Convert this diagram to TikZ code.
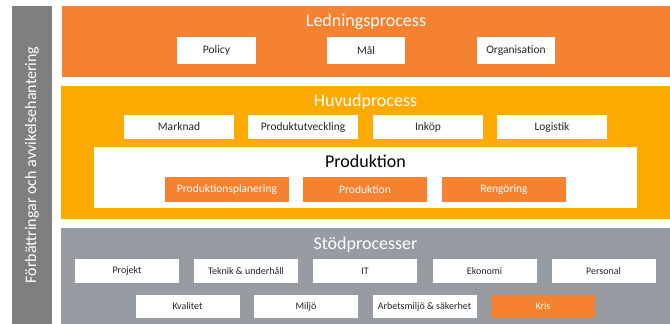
\documentclass[tikz,border=0pt]{standalone}
\usepackage{fontspec}
\setmainfont{Carlito}
\definecolor{ledorange}{RGB}{244,130,48}
\definecolor{huvudamber}{RGB}{255,170,0}
\definecolor{stodgray}{RGB}{150,156,161}
\definecolor{bargray}{RGB}{127,127,127}
\tikzset{
  panel/.style={inner sep=0pt, draw=none},
  title/.style={anchor=base, text=white, font=\fontsize{18}{20}\selectfont},
  whitebox/.style={fill=white, text=black!85, inner sep=0pt},
  orangebox/.style={fill=ledorange, text=white, inner sep=0pt},
}
\begin{document}
\begin{tikzpicture}[x=1pt, y=-1pt]

    \useasboundingbox (0,0) rectangle (670,324);

    %% Left bar
    \node[panel, fill=bargray, minimum width=40, minimum height=318] (forbattring) at (32,165) {};
    \node[rotate=90, text=white, font=\fontsize{16}{18}\selectfont] at (forbattring) {Förbättringar och avvikelsehantering};

    %% Ledningsprocess
    \node[panel, fill=ledorange, minimum width=608, minimum height=71] (ledning) at (366,41.5) {};
    \node[title] (ledningtitle) at (366,27) {Ledningsprocess};
    \node[whitebox, minimum width=79, minimum height=27, font=\fontsize{11.5}{13}\selectfont] (policy) at (216.5,50.5) {Policy};
    \node[whitebox, minimum width=78, minimum height=27, font=\fontsize{11.5}{13}\selectfont] (mal) at (366,50.5) {Mål};
    \node[whitebox, minimum width=78, minimum height=27, font=\fontsize{11.5}{13}\selectfont] (organisation) at (516,50.5) {Organisation};

    %% Huvudprocess
    \node[panel, fill=huvudamber, minimum width=609, minimum height=133] (huvud) at (365.5,152.5) {};
    \node[title] (huvudtitle) at (365.5,106) {Huvudprocess};
    \node[whitebox, minimum width=110, minimum height=24, font=\fontsize{11.5}{13}\selectfont] (marknad) at (179,127) {Marknad};
    \node[whitebox, minimum width=110, minimum height=24, font=\fontsize{11.5}{13}\selectfont] (produktutv) at (303,127) {Produktutveckling};
    \node[whitebox, minimum width=110, minimum height=24, font=\fontsize{11.5}{13}\selectfont] (inkop) at (428,127) {Inköp};
    \node[whitebox, minimum width=110, minimum height=24, font=\fontsize{11.5}{13}\selectfont] (logistik) at (552,127) {Logistik};

    % Produktion
    \node[whitebox, minimum width=543, minimum height=61] (produktion) at (365.5,177.5) {};
    \node[title, text=black] (produktiontitle) at (365.5,167) {Produktion};
    \node[orangebox, minimum width=124, minimum height=25, font=\fontsize{11.5}{13}\selectfont] (planering) at (227,189.5) {Produktionsplanering};
    \node[orangebox, minimum width=124, minimum height=25, font=\fontsize{11.5}{13}\selectfont] (prod) at (365,189.5) {Produktion};
    \node[orangebox, minimum width=124, minimum height=25, font=\fontsize{11.5}{13}\selectfont] (rengoring) at (504,189.5) {Rengöring};

    %% Stödprocesser
    \node[panel, fill=stodgray, minimum width=609, minimum height=96] (stod) at (365.5,276) {};
    \node[title] (stodtitle) at (365.5,249) {Stödprocesser};
    \node[whitebox, minimum width=104, minimum height=24, font=\fontsize{10}{12}\selectfont] (projekt) at (127,271) {Projekt};
    \node[whitebox, minimum width=104, minimum height=24, font=\fontsize{10}{12}\selectfont] (teknik) at (246,271) {Teknik \& underhåll};
    \node[whitebox, minimum width=104, minimum height=24, font=\fontsize{10}{12}\selectfont] (it) at (365,271) {IT};
    \node[whitebox, minimum width=104, minimum height=24, font=\fontsize{10}{12}\selectfont] (ekonomi) at (484.5,271) {Ekonomi};
    \node[whitebox, minimum width=104, minimum height=24, font=\fontsize{10}{12}\selectfont] (personal) at (603.5,271) {Personal};
    \node[whitebox, minimum width=104, minimum height=23, font=\fontsize{10}{12}\selectfont] (kvalitet) at (187.5,306.5) {Kvalitet};
    \node[whitebox, minimum width=104, minimum height=23, font=\fontsize{10}{12}\selectfont] (miljo) at (306,306.5) {Miljö};
    \node[whitebox, minimum width=104, minimum height=23, font=\fontsize{10}{12}\selectfont] (arbetsmiljo) at (424.5,306.5) {Arbetsmiljö \& säkerhet};
    \node[orangebox, minimum width=104, minimum height=23, font=\fontsize{10}{12}\selectfont] (kris) at (543,306.5) {Kris};

\end{tikzpicture}
\end{document}
